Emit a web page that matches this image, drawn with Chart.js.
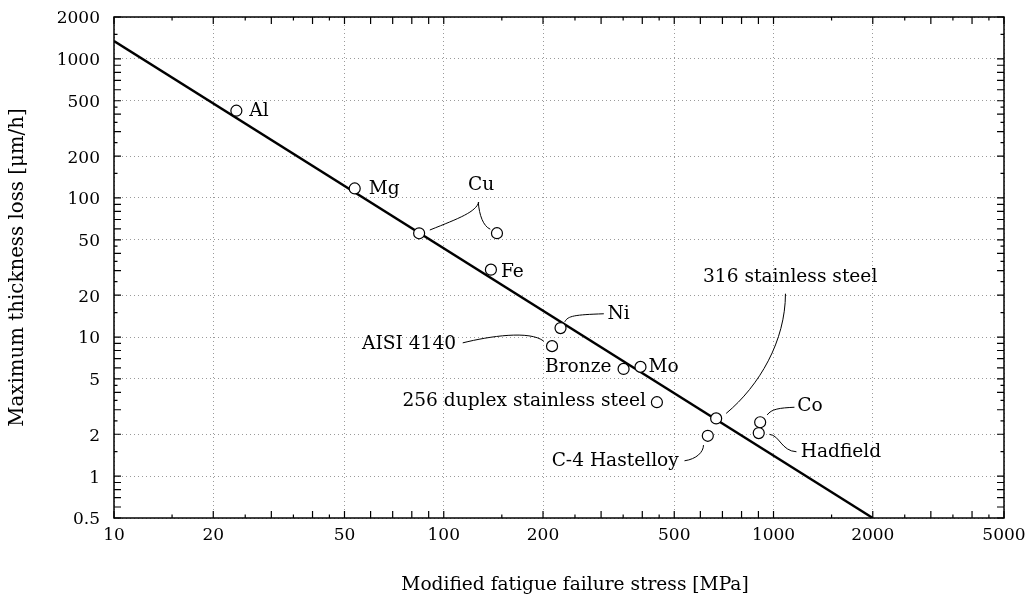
<!DOCTYPE html>
<html>
<head>
<meta charset="utf-8">
<script src="https://cdn.jsdelivr.net/npm/chart.js@4.4.1/dist/chart.umd.min.js"></script>
<style>
html, body { margin: 0; padding: 0; background: #fff; }
#wrap { width: 1029px; height: 601px; }
</style>
</head>
<body>
<div id="wrap"><canvas id="fatigueChart"></canvas></div>
<script>
// Data
const materials = ['Al', 'Mg', 'Cu', 'Cu', 'Fe', 'Ni', 'AISI 4140', 'Bronze', 'Mo',
  '256 duplex stainless steel', '316 stainless steel', 'C-4 Hastelloy', 'Co', 'Hadfield'];
const stress = [23.5, 53.7, 84.2, 145, 139, 226, 213, 351, 395, 443, 670, 632, 911, 902];
const thicknessLoss = [424, 117, 55.7, 55.8, 30.5, 11.6, 8.6, 5.9, 6.1, 3.4, 2.6, 1.95, 2.44, 2.04];

// fitted line
const fitStress = [10, 2000];
const fitLoss = [1345, 0.5];

// tick labels
const xTickValues = [10, 20, 50, 100, 200, 500, 1000, 2000, 5000];
const yTickValues = [0.5, 1, 2, 5, 10, 20, 50, 100, 200, 500, 1000, 2000];

const xTitle = 'Modified fatigue failure stress [MPa]';
const yTitle = 'Maximum thickness loss [μm/h]';

const FONT = 'DejaVu Serif';

// label placement, pixel offsets from each point (lead = bezier leader line)
const labelStyle = [
  { dx: 13, dy: 0, align: 'left' },
  { dx: 14, dy: 1, align: 'left' },
  { dx: 62, dy: -48, align: 'center', lead: [[10.7, -3.3], [40.7, -15.3], [56.7, -21.3], [59.7, -31.3]] },
  { hide: true, lead: [[-18.7, -31], [-17.7, -18], [-13.7, -7], [-6.7, -4]] },
  { dx: 10, dy: 2, align: 'left' },
  { dx: 47, dy: -14, align: 'left', lead: [[4.3, -6.3], [7.3, -12.3], [14.3, -13.3], [43.3, -14.3]] },
  { dx: -96, dy: -2, align: 'right', lead: [[-89.3, -3.3], [-62.3, -10], [-22.3, -16], [-8.3, -5]] },
  { dx: -12, dy: -2, align: 'right' },
  { dx: 8, dy: 0, align: 'left' },
  { dx: -11, dy: -1, align: 'right' },
  { dx: 74, dy: -141, align: 'center', lead: [[10, -5], [43.3, -32.7], [69.3, -77.7], [69.3, -124.7]] },
  { dx: -29, dy: 25, align: 'right', lead: [[-23.3, 25], [-11.3, 23.3], [-4.3, 16.3], [-4.3, 9.3]] },
  { dx: 37, dy: -16, align: 'left', lead: [[7, -7.3], [11.3, -13.3], [19.3, -14.3], [34.3, -15]] },
  { dx: 42, dy: 19, align: 'left', lead: [[10.7, 1.3], [20.7, 2], [22.7, 18], [37.7, 18.7]] }
];

// frame, inward ticks on all four sides, point labels, x title
const decorations = {
  id: 'decorations',
  afterDatasetsDraw(chart) {
    const { ctx, chartArea: a, scales: { x, y } } = chart;
    ctx.save();
    ctx.strokeStyle = '#000';

    // inward ticks
    ctx.lineWidth = 1.2;
    const marks = (min, max) => {
      const out = [];
      for (let d = Math.pow(10, Math.floor(Math.log10(min))); d <= max; d *= 10) {
        [1, 2, 3, 4, 5, 6, 7, 8, 9].forEach(m => out.push([m * d, 7]));
        [1.5, 2.5, 3.5, 4.5].forEach(m => out.push([m * d, 3.5]));
      }
      return out.filter(t => t[0] >= min * 0.999 && t[0] <= max * 1.001);
    };
    ctx.beginPath();
    marks(x.min, x.max).forEach(([v, len]) => {
      const px = x.getPixelForValue(v);
      ctx.moveTo(px, a.bottom); ctx.lineTo(px, a.bottom - len);
      ctx.moveTo(px, a.top); ctx.lineTo(px, a.top + len);
    });
    marks(y.min, y.max).forEach(([v, len]) => {
      const py = y.getPixelForValue(v);
      ctx.moveTo(a.left, py); ctx.lineTo(a.left + len, py);
      ctx.moveTo(a.right, py); ctx.lineTo(a.right - len, py);
    });
    ctx.stroke();

    // frame
    ctx.lineWidth = 1.5;
    ctx.strokeRect(a.left, a.top, a.right - a.left, a.bottom - a.top);

    // labels and leader lines
    ctx.lineWidth = 1;
    ctx.fillStyle = '#000';
    ctx.font = '18.6px "' + FONT + '"';
    ctx.textBaseline = 'middle';
    labelStyle.forEach((s, i) => {
      const px = x.getPixelForValue(stress[i]);
      const py = y.getPixelForValue(thicknessLoss[i]);
      if (s.lead) {
        const p = s.lead;
        ctx.beginPath();
        ctx.moveTo(px + p[0][0], py + p[0][1]);
        ctx.bezierCurveTo(px + p[1][0], py + p[1][1], px + p[2][0], py + p[2][1], px + p[3][0], py + p[3][1]);
        ctx.stroke();
      }
      if (!s.hide) {
        ctx.textAlign = s.align;
        ctx.fillText(materials[i], px + s.dx, py + s.dy);
      }
    });

    // x axis title (sits a bit right of centre in the original)
    ctx.textAlign = 'center';
    ctx.fillText(xTitle, (a.left + a.right) / 2 + 16, 585);
    ctx.restore();
  }
};

const ctx = document.getElementById('fatigueChart').getContext('2d');

const fatigueChart = new Chart(ctx, {
  type: 'scatter',
  data: {
    datasets: [
      {
        data: stress.map((v, i) => ({ x: v, y: thicknessLoss[i] })),
        pointRadius: 5.5,
        pointBorderWidth: 1.2,
        pointBorderColor: '#000',
        pointBackgroundColor: '#fff',
        order: 0
      },
      {
        type: 'line',
        data: fitStress.map((v, i) => ({ x: v, y: fitLoss[i] })),
        borderColor: '#000',
        borderWidth: 2.4,
        pointRadius: 0,
        fill: false,
        order: 1
      }
    ]
  },
  options: {
    responsive: true,
    maintainAspectRatio: false,
    animation: false,
    layout: { padding: { top: 17, right: 25, left: 0, bottom: 0 } },
    plugins: { legend: { display: false }, tooltip: { enabled: false } },
    scales: {
      x: {
        type: 'logarithmic',
        min: 10,
        max: 5000,
        afterBuildTicks: s => { s.ticks = xTickValues.map(v => ({ value: v })); },
        afterFit: s => { s.height = 83; s.paddingLeft = 0; s.paddingRight = 0; },
        ticks: {
          color: '#000', padding: 7, autoSkip: false, maxRotation: 0,
          font: { family: FONT, size: 17 },
          callback: v => String(v)
        },
        grid: { color: '#9a9a9a', lineWidth: 1, drawTicks: false },
        border: { display: false, dash: [1, 3] },
        title: { display: false }
      },
      y: {
        type: 'logarithmic',
        min: 0.5,
        max: 2000,
        afterBuildTicks: s => { s.ticks = yTickValues.map(v => ({ value: v })); },
        afterFit: s => { s.width = 114; s.paddingTop = 0; s.paddingBottom = 0; },
        ticks: {
          color: '#000', padding: 14, autoSkip: false, labelOffset: 2,
          font: { family: FONT, size: 17 },
          callback: v => String(v)
        },
        grid: { color: '#9a9a9a', lineWidth: 1, drawTicks: false },
        border: { display: false, dash: [1, 3] },
        title: {
          display: true, text: yTitle, color: '#000',
          font: { family: FONT, size: 19.8 }, padding: { top: 6, bottom: 0 }
        }
      }
    }
  },
  plugins: [decorations]
});
</script>
</body>
</html>
